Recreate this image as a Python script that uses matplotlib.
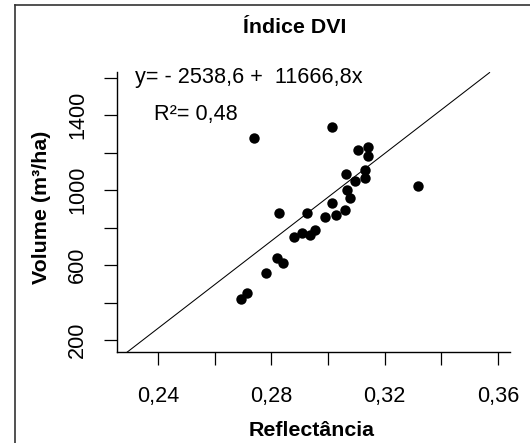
import matplotlib
matplotlib.use("Agg")
import matplotlib.pyplot as plt
from matplotlib.lines import Line2D

plt.rcParams['font.family'] = ['Liberation Sans', 'DejaVu Sans']

# ---- data ----
reflectancia = [0.2740, 0.3015, 0.3107, 0.3142, 0.3142, 0.3064, 0.3131, 0.3132,
                0.3096, 0.3068, 0.3079, 0.3015, 0.3059, 0.3029, 0.2991, 0.2927,
                0.2828, 0.2954, 0.2937, 0.2907, 0.2881, 0.3318, 0.2819, 0.2842,
                0.2780, 0.2716, 0.2694]
volume = [1276, 1338, 1213, 1231, 1179, 1085, 1108, 1066,
          1050, 1000, 957, 932, 893, 867, 858, 875,
          880, 787, 760, 769, 751, 1021, 638, 611,
          559, 452, 420]

intercept = -2538.6
slope = 11666.8
fit_x = [0.2200, 0.3570]

xticks = [0.24, 0.26, 0.28, 0.30, 0.32, 0.34, 0.36]
xticklabels = ['0,24', '', '0,28', '', '0,32', '', '0,36']
yticks = [200, 400, 600, 800, 1000, 1200, 1400, 1600]
yticklabels = ['200', '', '600', '', '1000', '', '1400', '']

title = 'Índice DVI'
xlabel = 'Reflectância'
ylabel = 'Volume (m³/ha)'
eq_text = 'y= - 2538,6 +  11666,8x'
r2_text = 'R²= 0,48'

# ---- figure ----
W, H = 530, 443
fig = plt.figure(figsize=(W / 100, H / 100), dpi=100)
fig.patch.set_facecolor('white')

L, R, T, B = 116.7, 510.0, 71.7, 351.7
ax = fig.add_axes([L / W, 1 - B / H, (R - L) / W, (B - T) / H])
ax.set_xlim(0.2255, 0.3642)
ax.set_ylim(137.6, 1631)

for s in ['top', 'right']:
    ax.spines[s].set_visible(False)
for s in ['left', 'bottom']:
    ax.spines[s].set_linewidth(1.0)
    ax.spines[s].set_color('black')

FS = 15.6
ax.set_xticks(xticks, labels=xticklabels)
ax.set_yticks(yticks, labels=yticklabels, rotation=90, va='center')
ax.tick_params(axis='x', direction='out', length=9.4, width=0.9, pad=15.5,
               labelsize=FS, colors='black')
ax.tick_params(axis='y', direction='out', length=9.6, width=0.9, pad=11.0,
               labelsize=FS, colors='black')

# regression line
fy = [intercept + slope * v for v in fit_x]
ax.plot(fit_x, fy, color='black', lw=0.75, clip_on=True)

# points
ax.plot(reflectancia, volume, 'o', color='black', ms=7.5, mec='black', mew=0,
        clip_on=False, zorder=3)

# texts
fig.text(135 / W, 1 - 83 / H, eq_text, fontsize=FS, ha='left', va='baseline')
fig.text(154 / W, 1 - 120 / H, r2_text, fontsize=FS, ha='left', va='baseline')

fig.text(295 / W, 1 - 33 / H, title, fontsize=15.4, fontweight='bold',
         ha='center', va='baseline')
fig.text(312 / W, 1 - 436 / H, xlabel, fontsize=15.4, fontweight='bold',
         ha='center', va='baseline')
fig.text(47 / W, 1 - 207 / H, ylabel, fontsize=15.4, fontweight='bold',
         ha='center', va='baseline', rotation=90, rotation_mode='anchor')

# outer frame (left and top edges visible)
fig.add_artist(Line2D([14.5 / W, 14.5 / W], [0, 1 - 4.5 / H], color='#333333',
                      lw=1.2, transform=fig.transFigure))
fig.add_artist(Line2D([14.5 / W, 1], [1 - 4.5 / H, 1 - 4.5 / H], color='#333333',
                      lw=1.2, transform=fig.transFigure))

fig.savefig('out.png', dpi=100)
